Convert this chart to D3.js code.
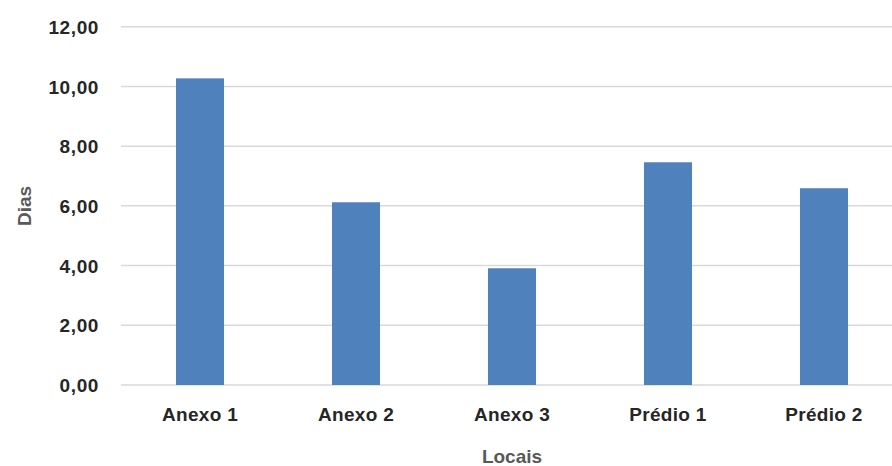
<!DOCTYPE html>
<html>
<head>
<meta charset="utf-8">
<script src="https://cdn.jsdelivr.net/npm/d3@7"></script>
<style>
  body { margin: 0; background: #fff; }
  text { font-family: "Liberation Sans", Arial, sans-serif; font-weight: bold; }
</style>
</head>
<body>
<script>
  // data
  var locais = ["Anexo 1", "Anexo 2", "Anexo 3", "Prédio 1", "Prédio 2"];
  var dias = [10.27, 6.12, 3.91, 7.46, 6.59];
  var yTicks = [0, 2, 4, 6, 8, 10, 12];

  var w = 892, h = 466;
  var svg = d3.select("body").append("svg")
    .attr("width", w)
    .attr("height", h);

  var x = d3.scaleBand()
    .domain(locais)
    .range([122, 902])
    .paddingInner(0.692)
    .paddingOuter(0.346);

  var y = d3.scaleLinear()
    .domain([0, 12])
    .range([385, 26.7]);

  // gridlines
  svg.append("g")
    .selectAll("line")
    .data(yTicks)
    .enter()
    .append("line")
    .attr("x1", 121)
    .attr("x2", w)
    .attr("y1", d => y(d))
    .attr("y2", d => y(d))
    .attr("stroke", "#d9d9d9")
    .attr("stroke-width", 1.5);

  // y axis labels
  var yAxis = d3.axisLeft(y)
    .tickValues(yTicks)
    .tickSize(0)
    .tickPadding(0)
    .tickFormat(d => d3.format(".2f")(d).replace(".", ","));

  svg.append("g")
    .attr("transform", "translate(99,0)")
    .call(yAxis)
    .call(g => g.select(".domain").remove())
    .selectAll("text")
    .attr("font-size", 19)
    .attr("font-family", "Liberation Sans, Arial, sans-serif")
    .attr("letter-spacing", 0.6)
    .attr("fill", "#262626")
    .attr("dy", "0.35em");

  // bars
  svg.append("g")
    .selectAll("rect")
    .data(dias)
    .enter()
    .append("rect")
    .attr("x", (d, i) => x(locais[i]))
    .attr("width", x.bandwidth())
    .attr("y", d => y(d))
    .attr("height", d => y(0) - y(d))
    .attr("fill", "#4f81bd");

  // x axis labels
  var xAxis = d3.axisBottom(x).tickSize(0).tickPadding(0);
  svg.append("g")
    .attr("transform", "translate(0,407)")
    .call(xAxis)
    .call(g => g.select(".domain").remove())
    .selectAll("text")
    .attr("font-size", 19)
    .attr("font-family", "Liberation Sans, Arial, sans-serif")
    .attr("letter-spacing", 0.3)
    .attr("fill", "#262626")
    .attr("dy", "0.72em");

  // axis titles
  svg.append("text")
    .attr("x", 512)
    .attr("y", 463)
    .attr("text-anchor", "middle")
    .attr("font-size", 19)
    .attr("fill", "#595959")
    .text("Locais");

  svg.append("text")
    .attr("transform", "translate(31,206) rotate(-90)")
    .attr("text-anchor", "middle")
    .attr("font-size", 19)
    .attr("fill", "#595959")
    .text("Dias");
</script>
</body>
</html>
